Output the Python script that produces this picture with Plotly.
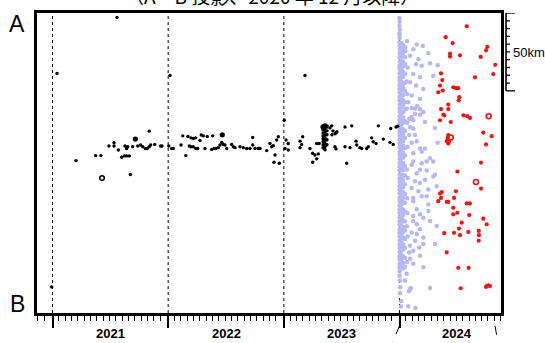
import plotly.graph_objects as go

# ---------------- data (time in decimal years, distance from A in km) ----------------
black_t = [2021.039, 2021.558, 2022.016, 2023.183, 2020.993, 2021.203, 2021.373, 2021.419, 2021.488, 2021.532,
           2021.532, 2021.569, 2021.598, 2021.621, 2021.641, 2021.664, 2021.627, 2021.641, 2021.650, 2021.673,
           2021.693, 2021.737, 2021.762, 2021.780, 2021.802, 2021.820, 2021.837, 2021.849, 2021.837, 2021.884,
           2021.935, 2021.947, 2022.005, 2022.030, 2022.044, 2022.111, 2022.126, 2022.152, 2022.171, 2022.197,
           2022.217, 2022.238, 2022.183, 2022.197, 2022.217, 2022.238, 2022.255, 2022.275, 2022.286, 2022.304,
           2022.338, 2022.318, 2022.385, 2022.376, 2022.396, 2022.413, 2022.433, 2022.448, 2022.463, 2022.477,
           2022.506, 2022.491, 2022.549, 2022.563, 2022.578, 2022.621, 2022.649, 2022.679, 2022.707, 2022.731,
           2022.731, 2022.751, 2022.779, 2022.794, 2022.852, 2022.880, 2022.895, 2022.909, 2022.924, 2022.915,
           2022.961, 2022.952, 2022.938, 2023.004, 2023.019, 2023.038, 2023.010, 2023.038, 2023.140, 2023.154,
           2023.140, 2023.163, 2023.226, 2023.249, 2023.269, 2023.298, 2023.284, 2023.249, 2023.284, 2023.306,
           2023.339, 2023.339, 2023.339, 2023.339, 2023.339, 2023.339, 2023.339,
           2023.347, 2023.347, 2023.347,
           2023.356, 2023.356, 2023.356, 2023.356, 2023.356, 2023.356, 2023.356, 2023.356,
           2023.373, 2023.373, 2023.373, 2023.373, 2023.373,
           2023.373, 2023.399, 2023.425, 2023.451, 2023.416, 2023.442, 2023.459,
           2023.414, 2023.442, 2023.451, 2023.529, 2023.587, 2023.529, 2023.572, 2023.543, 2023.624, 2023.630,
           2023.658, 2023.673, 2023.716, 2023.730, 2023.759, 2023.773, 2023.797, 2023.817, 2023.860, 2023.918,
           2023.946, 2023.924, 2023.970, 2023.984]
black_km = [38.8, 2.9, 40.1, 40.1, 176.0, 94.8, 91.6, 91.6, 85.4, 83.3,
            85.4, 88.0, 92.7, 91.8, 91.8, 91.8, 85.4, 87.0, 85.9, 103.7,
            85.9, 85.4, 84.8, 85.9, 87.0, 87.0, 85.9, 84.8, 75.9, 84.4,
            85.4, 85.4, 85.4, 87.0, 87.0, 84.8, 78.9, 91.6, 79.3, 80.2,
            80.6, 80.2, 85.4, 85.9, 85.9, 87.0, 87.0, 81.9, 78.4, 78.9,
            79.3, 87.0, 78.9, 87.6, 87.0, 87.0, 86.5, 84.8, 83.1, 84.4,
            87.0, 84.8, 84.4, 85.9, 86.5, 85.9, 86.5, 87.0, 87.0, 80.0,
            84.8, 87.0, 87.0, 87.0, 88.4, 83.8, 85.9, 85.2, 91.2, 95.9,
            96.5, 79.5, 81.6, 68.9, 81.6, 83.8, 87.0, 88.0, 82.3, 84.4,
            86.5, 79.5, 87.0, 90.1, 91.2, 90.5, 93.7, 95.9, 83.8, 83.8,
            75.1, 77.0, 78.9, 80.8, 82.7, 84.6, 86.5,
            87.2, 79.5, 83.0,
            74.4, 76.3, 78.2, 80.2, 82.1, 84.0, 85.9, 87.8,
            73.2, 75.7, 78.2, 81.4, 84.6,
            72.5, 73.8, 75.7, 77.0, 78.2, 77.6, 76.3,
            72.5, 85.9, 87.3, 73.2, 72.5, 85.9, 86.5, 96.5, 82.3, 84.8,
            86.5, 87.0, 87.0, 85.9, 80.2, 82.7, 83.8, 72.5, 81.0, 83.1,
            84.4, 74.2, 73.2, 72.7]

# larger events (filled) and one open-ringed event
black_big_t = [2021.716, 2022.468, 2023.339, 2023.356]
black_big_km = [81.0, 78.2, 73.2, 72.5]
black_ring_t = [2021.428]
black_ring_km = [106.0]

# 2024-01-01 to 2024-04-30 : dense aftershock column right after 1 Jan 2024
blue_col_t = [2024.001, 2024.016, 2024.031, 2024.047]
blue_col_km = [
    [14.0, 16.1, 18.9, 21.0, 23.6, 26.2, 28.5, 31.1, 33.9, 36.0, 38.7, 41.2, 43.5, 46.3, 48.6, 51.0, 53.8,
     56.1, 58.7, 61.2, 63.5, 66.4, 68.8, 71.0, 73.9, 76.2, 78.5, 81.3, 83.7, 86.0, 88.9, 91.1, 93.6, 96.3,
     98.7, 101.0, 103.8, 106.2, 108.5, 111.3, 113.6, 116.0, 118.8, 121.1, 123.7, 126.2, 128.5, 131.4, 133.8,
     136.0, 138.9, 141.1, 143.6, 146.3, 148.7, 151.0, 153.9, 156.2, 158.5, 161.3, 163.6, 166.0, 168.8],
    [19.5, 22.4, 25.0, 27.9, 30.6, 33.2, 36.1, 38.8, 41.5, 44.0, 46.9, 49.6, 52.3, 55.1, 57.7, 60.4, 63.2,
     65.9, 68.5, 71.4, 74.0, 76.8, 79.5, 82.1, 85.0, 87.6, 90.4, 93.1, 95.8, 98.6, 101.2, 104.0, 106.7,
     109.4, 112.1, 114.9, 117.5, 120.3, 123.0, 125.7, 128.4, 131.2, 133.9, 136.5, 139.3, 142.0, 144.8,
     147.4, 150.2, 152.9, 155.6, 158.3, 161.1, 163.8],
    [20.5, 23.8, 27.0, 31.5, 34.2, 37.9, 41.0, 45.6, 48.3, 52.7, 56.0, 59.4, 63.8, 67.1, 70.5, 74.9, 78.2,
     82.6, 85.3, 89.7, 93.0, 96.4, 100.8, 104.1, 107.5, 111.9, 115.2, 118.6, 122.0, 126.3, 129.7, 133.1,
     137.4, 140.8, 144.2, 148.5, 151.9, 156.3, 160.6, 164.0],
    [22.0, 28.5, 33.0, 39.2, 44.8, 50.1, 57.3, 62.0, 69.4, 75.8, 80.3, 86.9, 91.5, 98.2, 104.6, 110.0,
     116.3, 121.9, 127.5, 134.0, 139.6, 145.1, 150.8, 157.2, 163.0],
]
blue_t = [2024.201, 2024.149, 2024.249, 2024.119, 2024.091, 2024.163, 2024.143, 2024.192, 2024.264, 2024.292,
          2024.330, 2024.119, 2024.177, 2024.091, 2024.143, 2024.206, 2024.105, 2024.177, 2024.076, 2024.134,
          2024.206, 2024.105, 2024.062, 2024.105, 2024.154, 2024.177, 2024.134, 2024.177, 2024.085, 2024.119,
          2024.220, 2024.091, 2024.119, 2024.085, 2024.134, 2024.149, 2024.105, 2024.307, 2024.330, 2024.177,
          2024.220, 2024.119, 2024.192, 2024.264, 2024.292, 2024.235, 2024.119, 2024.105, 2024.192, 2024.177,
          2024.235, 2024.307, 2024.292, 2024.149, 2024.134, 2024.177, 2024.220, 2024.249, 2024.322, 2024.105,
          2024.163, 2024.119, 2024.192, 2024.235, 2024.119, 2024.149, 2024.249, 2024.249, 2024.177, 2024.119,
          2024.206, 2024.264, 2024.322, 2024.119, 2024.149, 2024.177, 2024.105, 2024.149, 2024.206, 2024.134,
          2024.091, 2024.171, 2024.206, 2024.307, 2024.119, 2024.085, 2024.177, 2024.091, 2024.119, 2024.206,
          2024.062, 2024.048,
          2024.066, 2024.050, 2024.070, 2024.060, 2024.066, 2024.068, 2024.070, 2024.064, 2024.072, 2024.066,
          2024.068, 2024.064, 2024.070, 2024.066,
          2024.004, 2024.006, 2024.004, 2024.090, 2024.098, 2024.082, 2024.015, 2024.012, 2024.075, 2024.138,
          2024.264,
          2024.000, 2024.001, 2024.000, 2024.002, 2024.001]
blue_km = [21.2, 20.2, 25.9, 23.3, 27.5, 29.7, 32.9, 33.9, 32.3, 40.3,
           33.5, 39.2, 41.3, 44.5, 46.6, 48.8, 53.0, 55.2, 57.3, 61.5,
           63.6, 66.8, 61.5, 61.1, 59.8, 61.9, 64.7, 65.3, 67.9, 68.9,
           70.0, 73.2, 74.2, 78.4, 78.4, 82.3, 83.3, 73.8, 83.3, 87.0,
           87.0, 90.1, 89.1, 93.3, 95.4, 95.4, 95.4, 97.5, 96.5, 100.7,
           101.1, 103.9, 105.0, 102.9, 108.1, 109.2, 107.1, 113.4, 111.3, 112.4,
           114.5, 118.8, 117.7, 117.7, 120.9, 126.1, 123.0, 127.2, 129.3, 130.4,
           131.5, 133.6, 136.8, 133.6, 135.7, 138.9, 141.0, 142.0, 144.2, 146.3,
           149.5, 150.6, 148.4, 148.4, 152.7, 153.8, 155.9, 157.9, 161.1, 163.3,
           167.5, 171.8,
           18.0, 24.5, 35.0, 44.0, 52.0, 70.5, 86.0, 100.5, 106.0, 119.0,
           128.5, 137.0, 143.5, 160.0,
           171.8, 176.2, 180.0, 177.5, 176.6, 178.8, 185.1, 188.5, 188.3, 189.5,
           176.6,
           3.2, 5.7, 8.3, 10.8, 13.0]

# from 2024-05-01
red_t = [2024.581, 2024.399, 2024.460, 2024.759, 2024.748, 2024.437, 2024.437, 2024.523, 2024.702, 2024.828,
         2024.811, 2024.359, 2024.370, 2024.350, 2024.335, 2024.373, 2024.653, 2024.465, 2024.488, 2024.508,
         2024.517, 2024.512, 2024.422, 2024.422, 2024.359, 2024.379, 2024.387, 2024.350, 2024.443, 2024.552,
         2024.586, 2024.609, 2024.724, 2024.797, 2024.748, 2024.422, 2024.417, 2024.408, 2024.428, 2024.422,
         2024.705, 2024.500, 2024.705, 2024.488, 2024.350, 2024.365, 2024.359, 2024.335, 2024.408, 2024.422,
         2024.471, 2024.581, 2024.609, 2024.465, 2024.500, 2024.465, 2024.603, 2024.724, 2024.538, 2024.754,
         2024.514, 2024.387, 2024.471, 2024.523, 2024.595, 2024.685, 2024.687, 2024.685, 2024.408, 2024.508,
         2024.598, 2024.529, 2024.748, 2024.782, 2024.754, 2024.768]
red_km = [8.5, 15.5, 19.3, 21.8, 24.0, 26.1, 28.0, 27.2, 28.2, 33.3,
          39.2, 38.8, 43.1, 46.6, 50.9, 49.8, 41.3, 47.7, 48.3, 48.3,
          54.1, 56.2, 58.8, 61.7, 61.7, 65.3, 65.7, 68.9, 70.0, 65.7,
          66.3, 67.4, 76.8, 79.1, 84.4, 78.4, 80.2, 82.3, 82.3, 83.8,
          96.1, 101.8, 112.8, 114.5, 116.0, 115.1, 118.8, 120.9, 121.3, 121.3,
          118.8, 122.3, 122.3, 125.1, 128.3, 129.3, 129.8, 132.1, 134.7, 135.7,
          138.5, 141.4, 141.2, 142.7, 140.6, 140.0, 142.7, 146.3, 153.8, 163.7,
          163.7, 176.8, 176.0, 175.4, 175.4, 174.9]
red_ring_t = [2024.771, 2024.661, 2024.443]
red_ring_km = [66.3, 108.6, 80.0]

year_starts = [2021, 2022, 2023, 2024]
year_labels = ["2021", "2022", "2023", "2024"]
minor_step_days = 20
scale_bar_km = 50
scale_tick_km = 5

# ---------------- layout constants ----------------
W, H = 545, 343
ML, MR, MT, MB = 37, 44, 10, 30
PW, PH = W - ML - MR, H - MT - MB
X_RANGE = [2020.866, 2024.8775]
Y_MAX = 192.7
SANS = "Arial, Liberation Sans, Helvetica, sans-serif"


def px_x(px):  # page pixel -> paper x
    return (px - ML) / PW


def px_y(py):  # page pixel -> paper y
    return (H - MB - py) / PH


def px_t(px):  # page pixel -> axis x value
    return X_RANGE[0] + (px - ML) / PW * (X_RANGE[1] - X_RANGE[0])


# minor ticks every 20 days from each 1 Jan
minor_vals = []
for y in range(2020, 2025):
    ndays = 366 if y % 4 == 0 else 365
    k = 1
    while k * minor_step_days <= 340:
        v = y + k * minor_step_days / ndays
        if X_RANGE[0] <= v <= X_RANGE[1]:
            minor_vals.append(v)
        k += 1

col_t, col_km = [], []
for t, kms in zip(blue_col_t, blue_col_km):
    col_t += [t] * len(kms)
    col_km += kms

BLUE = "#b5b8f6"
RED = "#ff1010"
fig = go.Figure()
fig.add_trace(go.Scatter(x=col_t + blue_t, y=col_km + blue_km, mode="markers",
                         marker=dict(size=4.5, color=BLUE, line=dict(width=0)), hoverinfo="skip"))
fig.add_trace(go.Scatter(x=black_t, y=black_km, mode="markers",
                         marker=dict(size=3.4, color="black", line=dict(width=0)), hoverinfo="skip"))
fig.add_trace(go.Scatter(x=black_big_t, y=black_big_km, mode="markers",
                         marker=dict(size=5.2, color="black", line=dict(width=0)), hoverinfo="skip"))
fig.add_trace(go.Scatter(x=black_ring_t, y=black_ring_km, mode="markers",
                         marker=dict(size=4.6, symbol="circle-open", color="black", line=dict(width=1.5)),
                         hoverinfo="skip"))
fig.add_trace(go.Scatter(x=red_t, y=red_km, mode="markers",
                         marker=dict(size=4.2, color=RED, line=dict(width=0)), hoverinfo="skip"))
fig.add_trace(go.Scatter(x=red_ring_t, y=red_ring_km, mode="markers",
                         marker=dict(size=5.0, symbol="circle-open", color=RED, line=dict(width=1.6)),
                         hoverinfo="skip"))

shapes = []
for ys in year_starts:
    shapes.append(dict(type="line", xref="x", yref="paper", x0=ys, x1=ys, y0=0, y1=1, layer="below",
                       line=dict(color="black", width=1, dash="dot")))
# scale bar (50 km) right of the frame
bar_x = px_x(506)
shapes.append(dict(type="line", xref="paper", yref="y", x0=bar_x, x1=bar_x, y0=0, y1=scale_bar_km,
                   line=dict(color="black", width=1.6)))
k = 0
while k * scale_tick_km <= scale_bar_km:
    v = k * scale_tick_km
    ln = 9 if v in (0, scale_bar_km) else 4
    shapes.append(dict(type="line", xref="paper", yref="y", x0=bar_x, x1=px_x(506 + ln), y0=v, y1=v,
                       line=dict(color="black", width=1.3)))
    k += 1
# zoom guide lines under 2024
shapes.append(dict(type="line", xref="x", yref="paper", x0=year_starts[-1], x1=px_t(392.5),
                   y0=px_y(326), y1=px_y(343), line=dict(color="black", width=1, dash="dash")))
shapes.append(dict(type="line", xref="x", yref="paper", x0=px_t(495), x1=px_t(498),
                   y0=px_y(326), y1=px_y(343), line=dict(color="black", width=1, dash="dash")))

annotations = []
for ys, lab in zip(year_starts, year_labels):
    annotations.append(dict(x=ys + 0.5, y=px_y(334), xref="x", yref="paper", text=f"<b>{lab}</b>",
                            xanchor="center", yanchor="middle", showarrow=False,
                            font=dict(size=13, color="black", family=SANS)))
annotations.append(dict(x=px_x(16.5), y=px_y(21.5), xref="paper", yref="paper", text="A", showarrow=False,
                        xanchor="center", yanchor="middle", font=dict(size=23, color="black", family=SANS)))
annotations.append(dict(x=px_x(17), y=px_y(304), xref="paper", yref="paper", text="B", showarrow=False,
                        xanchor="center", yanchor="middle", font=dict(size=23, color="black", family=SANS)))
annotations.append(dict(x=px_x(511), y=px_y(49.5), xref="paper", yref="paper", text="50km", showarrow=False,
                        xanchor="left", yanchor="middle", font=dict(size=13, color="black", family=SANS)))
annotations.append(dict(x=px_x(272), y=px_y(8), xref="paper", yref="paper", xanchor="center", yanchor="bottom",
                        text="（A－B 投影、2020 年 12 月以降）", showarrow=False,
                        font=dict(size=19, color="black", family="Noto Sans CJK JP")))

fig.update_layout(
    width=W, height=H, margin=dict(l=ML, r=MR, t=MT, b=MB),
    paper_bgcolor="white", plot_bgcolor="white", showlegend=False,
    xaxis=dict(range=X_RANGE, showgrid=False, zeroline=False, showline=True, mirror=True,
               linecolor="black", linewidth=2.5, ticks="outside", tickvals=year_starts, ticklen=12,
               tickwidth=1.5, tickcolor="black", showticklabels=False,
               minor=dict(tickvals=minor_vals, ticks="outside", ticklen=5, tickwidth=1.2, tickcolor="black")),
    yaxis=dict(range=[Y_MAX, 0], showgrid=False, zeroline=False, showline=True, mirror=True,
               linecolor="black", linewidth=2.5, ticks="", showticklabels=False),
    shapes=shapes, annotations=annotations,
)
fig.write_html("out.html")
